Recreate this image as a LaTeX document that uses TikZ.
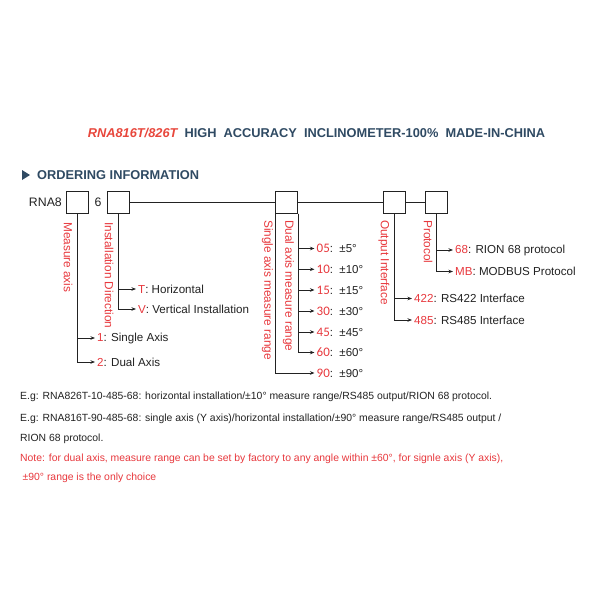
\documentclass[tikz,border=0pt]{standalone}
\usepackage{fontspec}
\setmainfont{Liberation Sans}
\newfontfamily\calfont{Carlito}
\usetikzlibrary{arrows.meta}
\definecolor{myred}{HTML}{E8383D}
\definecolor{titlered}{HTML}{E8473C}
\definecolor{titleblue}{HTML}{2F4A63}
\definecolor{ink}{HTML}{222222}
\newcommand{\rnum}[1]{\textcolor{myred}{\calfont\fontsize{13}{14}\selectfont #1}}
\begin{document}
\begin{tikzpicture}[x=1pt,y=-1pt,
  box/.style={draw=ink, line width=0.8pt, minimum width=22pt, minimum height=22pt, inner sep=0pt},
  conn/.style={draw=ink, line width=0.8pt},
  arr/.style={conn, -{Stealth[length=4.5pt,width=3.5pt]}},
  item/.style={anchor=west, inner xsep=2pt, inner ysep=1pt, font=\fontsize{11.6}{13}\selectfont, text=ink},
  rng/.style={anchor=west, inner xsep=2pt, inner ysep=1pt, font=\fontsize{11.5}{13}\selectfont, text=ink},
  vlab/.style={rotate=-90, text=myred, font=\fontsize{11.8}{13}\selectfont, inner sep=0pt, anchor=west},
  body/.style={anchor=west, inner sep=0pt, font=\fontsize{10.4}{12}\selectfont, text=ink}
]
\useasboundingbox[fill=white] (0,0) rectangle (600,600);

% title
\node[font=\bfseries\fontsize{12.8}{14}\selectfont, text=titleblue] (title) at (316.5,133)
  {\textcolor{titlered}{\itshape RNA816T/826T}\ \ HIGH\ \ ACCURACY\ \ INCLINOMETER-100\%\ \ MADE-IN-CHINA};

% ordering info
\fill[titleblue] (22,170) -- (30,175) -- (22,180) -- cycle;
\node[anchor=west, inner sep=0pt, font=\bfseries\fontsize{12.8}{14}\selectfont, text=titleblue] (ord) at (37,175) {ORDERING INFORMATION};

% code row
\node[anchor=east, inner sep=0pt, font=\fontsize{12.3}{14}\selectfont, text=ink] (rna) at (62,202.5) {RNA8};
\node[inner sep=0pt, font=\fontsize{12.3}{14}\selectfont, text=ink] (six) at (98,202.5) {6};
\node[box] (b1) at (77.5,202.5) {};
\node[box] (b2) at (118.5,202.5) {};
\node[box] (b3) at (286.5,202.5) {};
\node[box] (b4) at (394.5,202.5) {};
\node[box] (b5) at (436.5,202.5) {};
\draw[conn] (b2.east) -- (b3.west);
\draw[conn] (b3.east) -- (b4.west);
\draw[conn] (b4.east) -- (b5.west);

% vertical labels
\node[vlab] (l1) at (68,222) {Measure axis};
\node[vlab] (l2) at (109,222) {Installation Direction};
\node[vlab] (l3) at (267.5,220) {Single axis measure range};
\node[vlab] (l4) at (288.5,220) {Dual axis measure range};
\node[vlab] (l5) at (384,220) {Output Interface};
\node[vlab] (l6) at (428,220) {Protocol};

% measure axis
\node[item] (a1) at (95,338) {\textcolor{myred}{1}: Single Axis};
\node[item] (a2) at (95,362) {\textcolor{myred}{2}: Dual Axis};
\draw[arr] (b1.south) |- (a1.west);
\draw[arr] (b1.south) |- (a2.west);

% installation
\node[item] (d1) at (136,289) {\textcolor{myred}{T}: Horizontal};
\node[item] (d2) at (136,309) {\textcolor{myred}{V}: Vertical Installation};
\draw[arr] (b2.south) |- (d1.west);
\draw[arr] (b2.south) |- (d2.west);

% ranges
\node[rng] (r05) at (314.5,248.5) {\rnum{05}:\ \ ±5°};
\node[rng] (r10) at (314.5,269.3) {\rnum{10}:\ \ ±10°};
\node[rng] (r15) at (314.5,290) {\rnum{15}:\ \ ±15°};
\node[rng] (r30) at (314.5,311) {\rnum{30}:\ \ ±30°};
\node[rng] (r45) at (314.5,332) {\rnum{45}:\ \ ±45°};
\node[rng] (r60) at (314.5,352.5) {\rnum{60}:\ \ ±60°};
\node[rng] (r90) at (314.5,373) {\rnum{90}:\ \ ±90°};
\foreach \r in {r05,r10,r15,r30,r45,r60}
  \draw[arr] (b3.south east) |- (\r.west);
\draw[arr] (b3.south west) |- (r90.west);

% output
\node[item] (o1) at (412,298.5) {\textcolor{myred}{422}: RS422 Interface};
\node[item] (o2) at (412,320) {\textcolor{myred}{485}: RS485 Interface};
\draw[arr] (b4.south) |- (o1.west);
\draw[arr] (b4.south) |- (o2.west);

% protocol
\node[item] (p1) at (453,250) {\textcolor{myred}{68}: RION 68 protocol};
\node[item] (p2) at (453,271.5) {\textcolor{myred}{MB}: MODBUS Protocol};
\draw[arr] (b5.south) |- (p1.west);
\draw[arr] (b5.south) |- (p2.west);

% notes
\node[body] (e1) at (20,397) {E.g: RNA826T-10-485-68: horizontal installation/±10° measure range/RS485 output/RION 68 protocol.};
\node[body] (e2) at (20,419) {E.g: RNA816T-90-485-68: single axis (Y axis)/horizontal installation/±90° measure range/RS485 output /};
\node[body] (e3) at (20,438.5) {RION 68 protocol.};
\node[body, text=myred] (n1) at (20,458.5) {Note: for dual axis, measure range can be set by factory to any angle within ±60°, for signle axis (Y axis),};
\node[body, text=myred] (n2) at (22.5,478) {±90° range is the only choice};
\end{tikzpicture}
\end{document}
